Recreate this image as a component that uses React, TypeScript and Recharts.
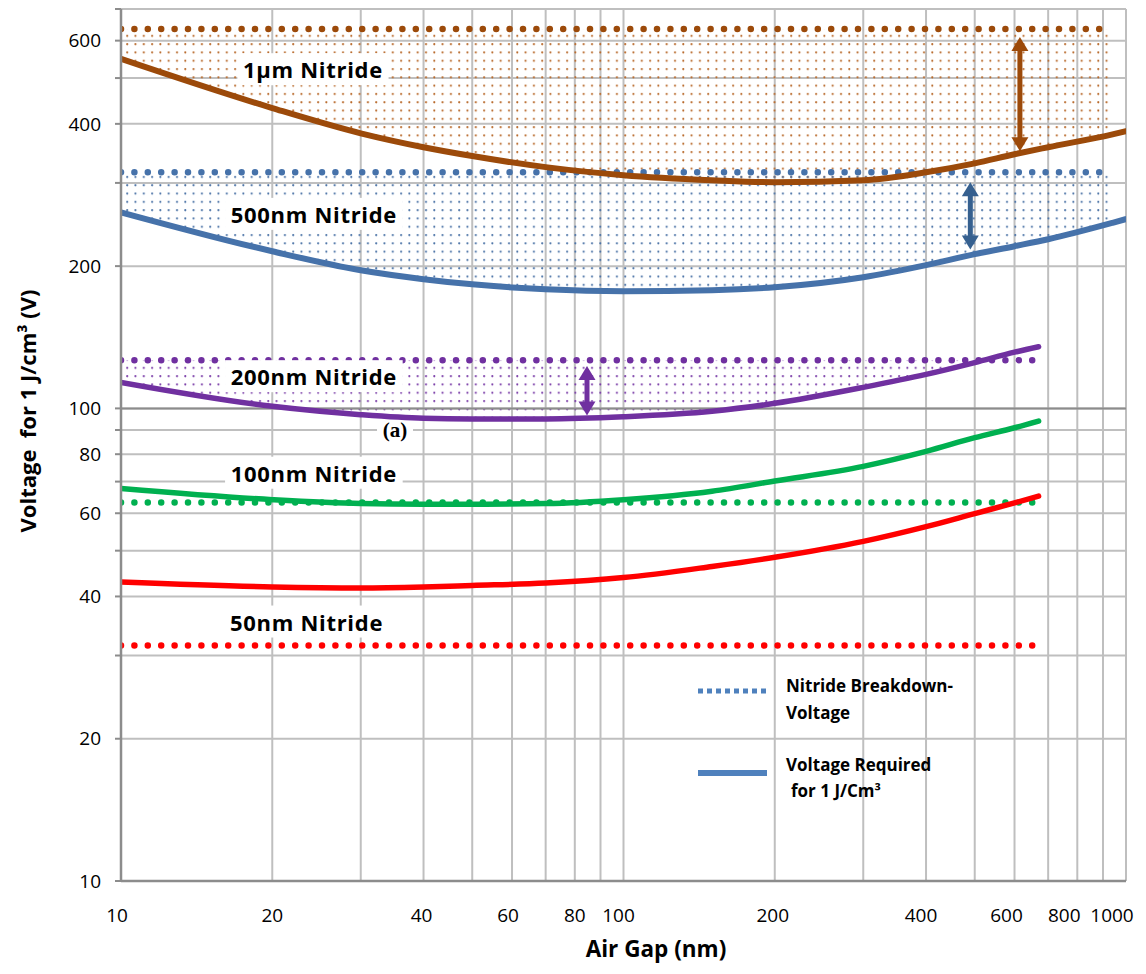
import React from "react";
import {
  ComposedChart,
  Line,
  Area,
  XAxis,
  YAxis,
  CartesianGrid,
  ReferenceLine,
  ReferenceDot,
} from "recharts";

// air gap (nm) sample points
const GAP_THICK = [10, 20, 30, 40, 50, 70, 100, 150, 200, 300, 400, 500, 600, 700, 940, 1000];
const GAP_THIN = [10, 20, 30, 40, 50, 70, 100, 150, 200, 300, 400, 500, 600, 670];

// voltage required for 1 J/cm3 (V)
const V_1UM = [549, 432, 382, 357, 342, 324, 311.5, 304, 301, 304, 316, 330, 345, 357, 380, 386];
const V_500NM = [260, 215, 196, 187.7, 183, 178.7, 177, 177.9, 180.5, 189.5, 201, 212, 220.4, 228, 247, 251.5];
const V_200NM = [113.5, 101, 97, 95.3, 95, 95, 96, 98.6, 102.5, 110.8, 118, 125, 131.5, 135];
const V_100NM = [67.7, 64.1, 62.9, 62.7, 62.7, 62.9, 64.1, 66.8, 70.2, 75.4, 81.1, 86.7, 91, 94];
const V_50NM = [42.9, 41.9, 41.7, 41.9, 42.2, 42.7, 43.85, 46.3, 48.4, 52.3, 56.2, 59.9, 63.1, 65.2];

// nitride breakdown voltages (V) and where the dotted lines stop (nm)
const BREAKDOWN = [635, 316, 126.5, 63.2, 31.5];
const BREAKDOWN_END = [940, 940, 656, 656, 656];

const X_TICKS = [10, 20, 30, 40, 50, 60, 70, 80, 90, 100, 200, 300, 400, 500, 600, 700, 800, 900, 1000];
const X_LABELS = [10, 20, 40, 60, 80, 100, 200, 400, 600, 800, 1000];
const X_LABEL_DX = [-4, 0, -2, -4, 0, -5, -2, -5, -8, -13, -14];
const Y_TICKS = [10, 20, 30, 40, 50, 60, 70, 80, 90, 100, 200, 300, 400, 500, 600, 700];
const Y_LABELS = [10, 20, 40, 60, 80, 100, 200, 400, 600];

const LABEL_TEXT = ["1µm Nitride", "500nm Nitride", "200nm Nitride", "100nm Nitride", "50nm Nitride", "(a)"];
const LABEL_GAP = [24.1, 24.2, 24.2, 24.2, 23.4, 35.1];
const LABEL_V = [522, 258, 117, 73.1, 35.4, 89.8];

// double arrows: gap, top, bottom
const ARROW_GAP = [615, 490, 84.6];
const ARROW_TOP = [611, 301, 123];
const ARROW_BOTTOM = [350, 217, 96.6];

const SERIES = [
  { name: "1µm", color: "#9C4A0A", dot: "#B8692A", width: 6, gaps: GAP_THICK, values: V_1UM, pat: "patBrown", arrow: "#9C4A0A" },
  { name: "500nm", color: "#4672AA", dot: "#4A72A6", width: 6, gaps: GAP_THICK, values: V_500NM, pat: "patBlue", arrow: "#36608F" },
  { name: "200nm", color: "#7030A0", dot: "#7A3DA8", width: 5.5, gaps: GAP_THIN, values: V_200NM, pat: "patPurple", arrow: "#7030A0" },
  { name: "100nm", color: "#00B050", dot: "#00B050", width: 5.5, gaps: GAP_THIN, values: V_100NM, pat: null, arrow: null },
  { name: "50nm", color: "#FF0000", dot: "#FF0000", width: 5.5, gaps: GAP_THIN, values: V_50NM, pat: null, arrow: null },
];

const W = 1138;
const H = 958;
const FONT = "'Open Sans', 'Noto Sans', sans-serif";

function curveData(gaps: number[], values: number[]) {
  return gaps.map((g, i) => ({ gap: g, v: values[i] }));
}

function fillData(gaps: number[], values: number[], bd: number, end: number) {
  return gaps
    .map((g, i) => ({ gap: g, range: [values[i], bd] }))
    .filter((d) => d.gap <= end && d.range[0] < bd);
}

function ArrowShape(props: any) {
  const { x1, y1, x2, y2, stroke } = props;
  const head = 14;
  const top = Math.min(y1, y2);
  const bot = Math.max(y1, y2);
  return (
    <g>
      <line x1={x1} x2={x2} y1={top + head - 1} y2={bot - head + 1} stroke={stroke} strokeWidth={5} />
      <path d={`M${x1},${top} L${x1 - 8.5},${top + head} L${x1 + 8.5},${top + head} Z`} fill={stroke} />
      <path d={`M${x1},${bot} L${x1 - 8.5},${bot - head} L${x1 + 8.5},${bot - head} Z`} fill={stroke} />
    </g>
  );
}

function makeLabelShape(text: string) {
  const serif = text === "(a)";
  return (props: any) => {
    const { cx, cy } = props;
    const w = serif ? 36 : text.length * 13.2 + 6;
    const h = serif ? 22 : 32;
    return (
      <g>
        <rect x={cx - w / 2} y={cy - h / 2 + (serif ? 2 : 0)} width={w} height={h} fill="#fff" />
        <text
          x={cx}
          y={cy}
          textAnchor="middle"
          dominantBaseline="central"
          fontFamily={serif ? "'Liberation Serif', serif" : FONT}
          fontWeight="bold"
          fontSize={serif ? 21 : 22}
          letterSpacing={serif ? 0 : 0.7}
          fill="#000"
        >
          {text}
        </text>
      </g>
    );
  };
}

function XTick(props: any) {
  const { x, y, payload } = props;
  const i = X_LABELS.indexOf(payload.value);
  if (i < 0) return null;
  return (
    <text x={x + X_LABEL_DX[i]} y={y} dy="0.71em" textAnchor="middle" fontFamily={FONT} fontSize={19} fill="#000">
      {payload.value}
    </text>
  );
}

const YTitle = () => (
  <text
    x={19}
    y={403}
    transform="rotate(-90 19 403)"
    textAnchor="middle"
    dominantBaseline="central"
    fontFamily={FONT}
    fontWeight="bold"
    fontSize={22}
    fill="#000"
    style={{ whiteSpace: "pre" }}
  >
    Voltage  for 1 J/cm³ (V)
  </text>
);

const XTitle = () => (
  <text
    x={648}
    y={940}
    textAnchor="middle"
    dominantBaseline="central"
    fontFamily={FONT}
    fontWeight="bold"
    fontSize={22.5}
    fill="#000"
  >
    Air Gap (nm)
  </text>
);

function LegendBox() {
  const t = { fontFamily: FONT, fontWeight: "bold" as const, fontSize: 17, fill: "#000" };
  return (
    <svg width={W} height={H} style={{ position: "absolute", left: 0, top: 0, pointerEvents: "none" }}>
      <line x1={690} x2={759} y1={683} y2={683} stroke="#4F81BD" strokeWidth={5} strokeDasharray="5 4" />
      <text x={778} y={677} dominantBaseline="central" {...t}>Nitride Breakdown-</text>
      <text x={778} y={704} dominantBaseline="central" {...t}>Voltage</text>
      <line x1={690} x2={759} y1={765} y2={765} stroke="#4F81BD" strokeWidth={6} />
      <text x={778} y={756} dominantBaseline="central" {...t}>Voltage Required</text>
      <text x={783} y={782} dominantBaseline="central" {...t}>for 1 J/Cm³</text>
    </svg>
  );
}

export default function App() {
  return (
    <div style={{ position: "relative", width: W, height: H, fontFamily: FONT }}>
      <ComposedChart width={W} height={H} margin={{ top: 1, right: 20, left: 33, bottom: 0 }}>
        <defs>
          {SERIES.filter((s) => s.pat).map((s) => (
            <pattern key={s.pat} id={s.pat as string} width={8.3} height={8.3} patternUnits="userSpaceOnUse">
              <circle cx={3} cy={3} r={1.05} fill={s.dot} />
            </pattern>
          ))}
        </defs>
        <CartesianGrid stroke="#BFBFBF" strokeWidth={2} />
        <XAxis
          dataKey="gap"
          type="number"
          scale="log"
          domain={[10, 1000]}
          ticks={X_TICKS}
          interval={0}
          allowDataOverflow
          height={85}
          axisLine={{ stroke: "#8C8C8C", strokeWidth: 2.5 }}
          tickLine={false}
          tickSize={0}
          tickMargin={28}
          tick={XTick}
          label={{ content: XTitle }}
        />
        <YAxis
          type="number"
          scale="log"
          domain={[10, 700]}
          ticks={Y_TICKS}
          interval={0}
          allowDataOverflow
          width={80}
          axisLine={{ stroke: "#8C8C8C", strokeWidth: 2.5 }}
          tickLine={{ stroke: "#8C8C8C", strokeWidth: 2 }}
          tickSize={6}
          tickMargin={14}
          tick={{ fill: "#000", fontSize: 19, fontFamily: FONT }}
          tickFormatter={(v: number) => (Y_LABELS.includes(v) ? String(v) : "")}
          label={{ content: YTitle }}
        />
        <ReferenceLine y={100} stroke="#8C8C8C" strokeWidth={2} />

        {SERIES.map((s, i) =>
          s.pat ? (
            <Area
              key={`fill-${s.name}`}
              data={fillData(s.gaps, s.values, BREAKDOWN[i], BREAKDOWN_END[i])}
              dataKey="range"
              type="monotone"
              stroke="none"
              fill={`url(#${s.pat})`}
              fillOpacity={1}
              isAnimationActive={false}
            />
          ) : null
        )}

        {SERIES.map((s, i) => (
          <Line
            key={`bd-${s.name}`}
            data={[
              { gap: 10, v: BREAKDOWN[i] },
              { gap: BREAKDOWN_END[i], v: BREAKDOWN[i] },
            ]}
            dataKey="v"
            type="linear"
            stroke={s.color}
            strokeWidth={6.5}
            strokeDasharray="0 13.4"
            strokeLinecap="round"
            dot={false}
            activeDot={false}
            isAnimationActive={false}
          />
        ))}

        {SERIES.map((s) => (
          <Line
            key={`req-${s.name}`}
            data={curveData(s.gaps, s.values)}
            dataKey="v"
            type="monotone"
            stroke={s.color}
            strokeWidth={s.width}
            strokeLinecap="round"
            dot={false}
            activeDot={false}
            isAnimationActive={false}
          />
        ))}

        {ARROW_GAP.map((g, i) => (
          <ReferenceLine
            key={`arrow-${i}`}
            segment={[
              { x: g, y: ARROW_TOP[i] },
              { x: g, y: ARROW_BOTTOM[i] },
            ]}
            stroke={SERIES[i].arrow as string}
            shape={ArrowShape}
          />
        ))}

        {LABEL_TEXT.map((t, i) => (
          <ReferenceDot key={t} x={LABEL_GAP[i]} y={LABEL_V[i]} r={0} shape={makeLabelShape(t)} />
        ))}
      </ComposedChart>
      <LegendBox />
    </div>
  );
}
